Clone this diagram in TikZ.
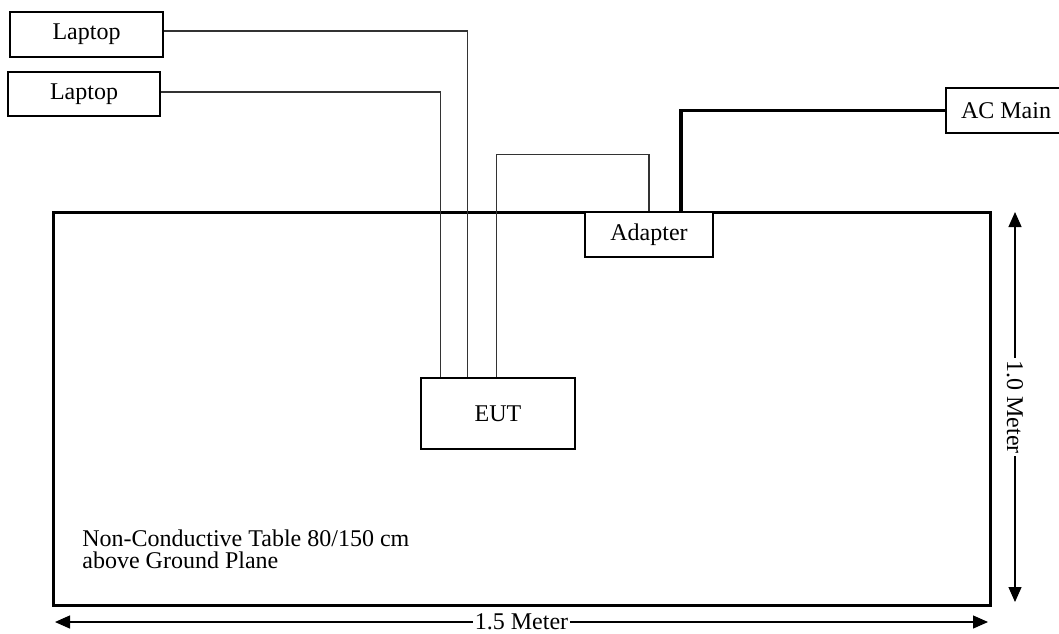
\documentclass[tikz,border=0pt]{standalone}
\usepackage{fontspec}
\setmainfont{Liberation Serif}
\usetikzlibrary{arrows.meta, positioning}

\begin{document}
\begin{tikzpicture}[x=0.5pt, y=-0.5pt, >={Triangle[length=7.5pt,width=6.5pt]},
      unit/.style={draw, line width=0.75pt, fill=white, inner sep=0pt,
                   font=\fontsize{12}{14}\selectfont},
      cable/.style={line width=0.6pt, black!80},
      power/.style={line width=1.7pt},
      dim/.style={<->, line width=0.6pt},
      lbl/.style={font=\fontsize{12}{14}\selectfont, fill=white, inner sep=1pt},
      note/.style={font=\fontsize{12}{11}\selectfont, align=left, inner sep=0pt}]

    \useasboundingbox (0,0) rectangle (1059,633);

    % ---- Table ----
    \node[draw, line width=1.5pt, minimum width=468.5pt, minimum height=196.5pt] (table) at (521.5,408.5) {};
    \node[note, anchor=north west] (tabtxt) at (82,529) {Non-Conductive Table 80/150 cm\\above Ground Plane};

    % ---- Units ----
    \node[unit, minimum width=76.5pt, minimum height=22.5pt] (lap1) at (86.5,34.5) {Laptop};
    \node[unit, minimum width=76pt, minimum height=22pt] (lap2) at (84,94) {Laptop};
    \node[unit, minimum width=77pt, minimum height=35.5pt] (eut) at (498,413.5) {EUT};
    \node[unit, minimum width=64pt, minimum height=22.5pt] (adapter) at (649,234.5) {Adapter};
    \node[unit, minimum width=60pt, minimum height=22.5pt] (acmain) at (1006,110.5) {AC Main};

    % ---- Cables ----
    \draw[cable] ([yshift=1.75pt]lap1.east) -| ([xshift=23.5pt]eut.north west);
    \draw[cable] ([yshift=1pt]lap2.east) -| ([xshift=10pt]eut.north west);
    \draw[cable] ([xshift=38pt]eut.north west) |- ([yshift=28.5pt]adapter.north) -- (adapter.north);
    \draw[power] ([xshift=16pt]adapter.north) |- (acmain.west);

    % ---- Dimensions ----
    \coordinate (hl) at (55,622);
    \coordinate (hr) at (988,622);
    \draw[dim] (hl) -- (hr) node[midway, lbl] (wlbl) {1.5 Meter};
    \coordinate (vt) at (1015,212);
    \coordinate (vb) at (1015,602);
    \draw[dim] (vt) -- (vb) node[midway, lbl, rotate=-90] (hlbl) {1.0 Meter};

\end{tikzpicture}
\end{document}
